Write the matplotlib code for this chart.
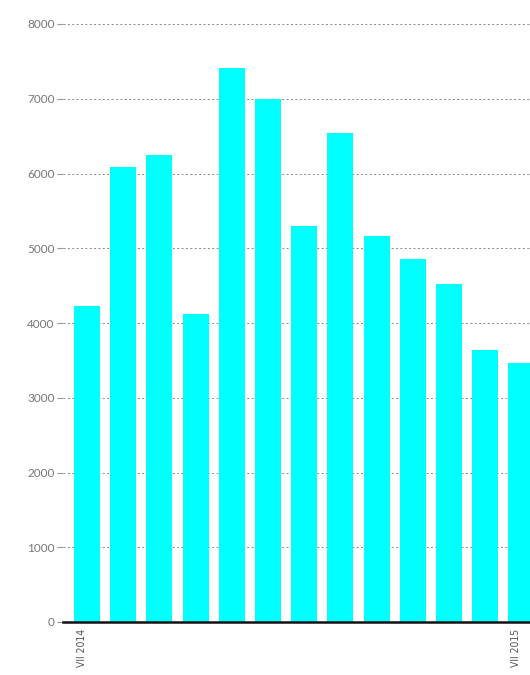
#!/usr/bin/env python3
# -*- coding: utf-8 -*-
"""Istogramma mensile (VII 2014 - VII 2015)."""
import matplotlib
matplotlib.use("Agg")
import matplotlib.pyplot as plt

# --- Dati ---
months = ["VII 2014", "VIII 2014", "IX 2014", "X 2014", "XI 2014", "XII 2014",
          "I 2015", "II 2015", "III 2015", "IV 2015", "V 2015", "VI 2015", "VII 2015"]
values = [4230, 6090, 6250, 4120, 7410, 7000, 5300, 6540, 5165, 4855, 4520, 3640, 3465]
shown_labels = {0: "VII 2014", 12: "VII 2015"}
y_ticks = [0, 1000, 2000, 3000, 4000, 5000, 6000, 7000, 8000]

W, H = 530, 675
fig = plt.figure(figsize=(W / 100, H / 100), dpi=100)

# Gli assi escono un poco a destra: l'ultima barra risulta tagliata come nell'originale
px_unit = 36.2
x_left = -24 / px_unit
x_right = 12.5
ax_left_px = 63
ax_w_px = (x_right - x_left) * px_unit
ax = fig.add_axes([ax_left_px / W, (H - 622) / H, ax_w_px / W, (622 - 24) / H])

xs = list(range(len(values)))
ax.bar(xs, values, width=0.72, color="#00FFFF", zorder=2)

ax.set_xlim(x_left, x_right)
ax.set_ylim(0, 8000)
ax.set_yticks(y_ticks)
ax.set_yticklabels([str(v) for v in y_ticks], fontsize=8.5, color="#777777",
                   family=["Lato", "DejaVu Sans"])
ax.tick_params(axis="y", length=4, width=0.8, color="#999999", pad=2)

# Griglia tratteggiata
ax.yaxis.grid(True, linestyle=(0, (2, 2.5)), color="#888888", linewidth=0.7, zorder=1)

ax.set_xticks(list(shown_labels.keys()))
ax.set_xticklabels(list(shown_labels.values()), rotation=90, fontsize=7.5,
                   color="#555555", family=["DejaVu Sans"], fontstretch="condensed",
                   ha="right", va="top")
ax.tick_params(axis="x", length=0, pad=5)
for lbl in ax.get_xticklabels():
    lbl.set_x(lbl.get_position()[0])

for s in ["top", "right", "left"]:
    ax.spines[s].set_visible(False)
ax.spines["bottom"].set_color("#111111")
ax.spines["bottom"].set_linewidth(1.8)
ax.spines["bottom"].set_zorder(3)

fig.savefig("out.png", dpi=100)
